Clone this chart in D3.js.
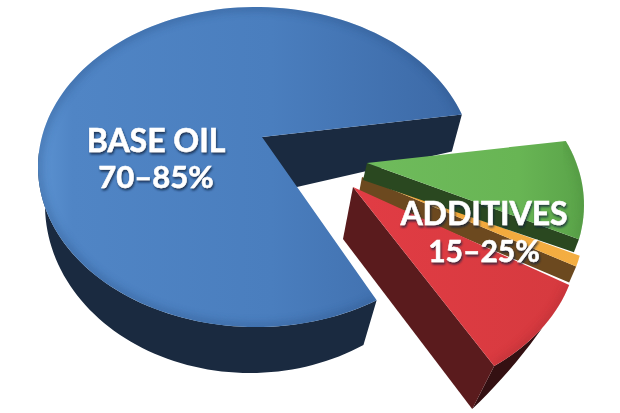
<!DOCTYPE html>
<html>
<head>
<meta charset="utf-8">
<script src="https://cdnjs.cloudflare.com/ajax/libs/d3/7.8.5/d3.min.js"></script>
<style>
  html, body { margin: 0; padding: 0; background: #fff; }
  svg { display: block; }
  text { font-family: Lato, sans-serif; font-weight: 700; fill: #fff; stroke: #fff; stroke-width: 0.5; text-anchor: middle; }
</style>
</head>
<body>
<div id="pie"></div>
<script>
// exploded 3d pie d3 chart

const width = 620
const height = 413

// data
const categories = ['Base oil', 'Additive green', 'Additive orange', 'Additive red']
const shares = [79, 10, 1.1, 9.9]
const labelLines = [['BASE OIL', '70–85%'], ['ADDITIVES', '15–25%']]

// drawing of each slice: top face ellipse, apex, extrusion
const rx = 218
const ry = 160
const rad = Math.PI / 180
const startDeg = 56.4 // clockwise from 3 o'clock, on screen
const explodeTurn = -4.4 // exploded wedge sits slightly rotated
const faces = [
  { cx: 256, cy: 167, ax: 262, ay: 137, turn: 0 },
  { cx: 366, cy: 205, ax: 367, ay: 163, turn: explodeTurn },
  { cx: 366, cy: 224, ax: 362, ay: 177, turn: -5.36 },
  { cx: 360, cy: 240, ax: 353, ay: 187, turn: explodeTurn }
]

const svg = d3.select('#pie').append('svg').attr('width', width).attr('height', height)
const defs = svg.append('defs')

function addGradient(id, stops) {
  const g = defs.append('linearGradient').attr('id', id)
  g.selectAll('stop')
    .data(stops)
    .join('stop')
    .attr('offset', d => d[0])
    .attr('stop-color', d => d[1])
}
addGradient('blueTop', [[0, '#5c93d2'], [0.08, '#5085c5'], [0.55, '#4a7ebe'], [1, '#3c69a6']])
addGradient('greenTop', [[0, '#6fbb5c'], [0.7, '#68b554'], [1, '#5aa349']])
addGradient('redTop', [[0, '#e13c44'], [1, '#d63a3f']])
addGradient('orangeTop', [[0, '#f0a436'], [1, '#f4ae42']])

defs.append('filter').attr('id', 'soft').append('feGaussianBlur').attr('stdDeviation', 4)
const shadow = defs.append('filter').attr('id', 'textShadow')
  .attr('x', '-10%').attr('y', '-20%').attr('width', '120%').attr('height', '150%')
shadow.append('feDropShadow')
  .attr('dx', 1).attr('dy', 2).attr('stdDeviation', 1.2)
  .attr('flood-color', '#10203a').attr('flood-opacity', 0.8)

// angles come from the shares
const pie = d3.pie().sort(null).startAngle(startDeg * rad).endAngle(startDeg * rad + 2 * Math.PI)
const arcs = pie(shares)

const line = d3.line()

// points along an ellipse between two angles
function rimPoints(e, a0, a1) {
  const n = Math.max(2, Math.ceil(Math.abs(a1 - a0) / (2 * rad)))
  return d3.range(n + 1).map(i => {
    const a = a0 + ((a1 - a0) * i) / n
    return [e.cx + (e.rx || rx) * Math.cos(a), e.cy + (e.ry || ry) * Math.sin(a)]
  })
}

function sliceAngles(i) {
  const t = faces[i].turn * rad
  return [arcs[i].startAngle + t, arcs[i].endAngle + t]
}

function topPath(i) {
  const [a0, a1] = sliceAngles(i)
  return line([[faces[i].ax, faces[i].ay], ...rimPoints(faces[i], a0, a1)]) + 'Z'
}

function quad(p, q, pd, qd) {
  return line([p, q, [q[0] + qd[0], q[1] + qd[1]], [p[0] + pd[0], p[1] + pd[1]]]) + 'Z'
}

function drawTop(i, fill, rimColor) {
  const id = 'clip' + i
  defs.append('clipPath').attr('id', id).append('path').attr('d', topPath(i))
  svg.append('path').attr('d', topPath(i)).attr('fill', fill)
  const [a0, a1] = sliceAngles(i)
  svg.append('g').attr('clip-path', 'url(#' + id + ')')
    .append('path')
    .attr('d', line(rimPoints(faces[i], a0, a1)))
    .attr('fill', 'none')
    .attr('stroke', rimColor)
    .attr('stroke-width', 6)
    .attr('opacity', 0.55)
    .attr('filter', 'url(#soft)')
}

function rimEnd(i, a) {
  return rimPoints(faces[i], a, a)[0]
}

// blue slice: back cut wall, outer wall, then top
const [blueA0, blueA1] = sliceAngles(0)
const blueApex = [faces[0].ax, faces[0].ay]
svg.append('path')
  .attr('d', quad(blueApex, rimEnd(0, blueA1), [0, 58], [-10, 37]))
  .attr('fill', '#1a2a40')
const blueFloor = { cx: 250, cy: 205, rx: 205, ry: 168 }
const wallEnd = 185 * rad
svg.append('path')
  .attr('d', line([...rimPoints(faces[0], blueA0, wallEnd), ...rimPoints(blueFloor, wallEnd, blueA0)]) + 'Z')
  .attr('fill', '#1a2a40')
drawTop(0, 'url(#blueTop)', '#2c5288')

// orange sliver and its brown cut wall, the red top covers the wall's foot
const [orangeA0, orangeA1] = sliceAngles(2)
svg.append('path')
  .attr('d', quad([faces[2].ax, faces[2].ay], rimEnd(2, orangeA1), [-3, 16], [-7, 16]))
  .attr('fill', '#6c491f')
drawTop(2, 'url(#orangeTop)', '#f4ae42')

// red slice: outer wall fades out towards its middle
const [redA0, redA1] = sliceAngles(3)
const redDrop = [-22, 43]
const redApex = [faces[3].ax, faces[3].ay]
const redWall = d3.scaleLinear().domain([redA0 + (redA1 - redA0) * 0.47, redA1]).range([0, 1])
const redRim = rimPoints(faces[3], redA0 + (redA1 - redA0) * 0.47, redA1)
const redFloor = redRim.map((p, i) => {
  const k = redWall(redA0 + (redA1 - redA0) * (0.47 + (0.53 * i) / (redRim.length - 1)))
  return [p[0] + redDrop[0] * k, p[1] + redDrop[1] * k]
})
svg.append('path')
  .attr('d', line([...redRim, ...redFloor.reverse()]) + 'Z')
  .attr('fill', '#341012')
svg.append('path')
  .attr('d', quad(redApex, rimEnd(3, redA1), [-10, 52], redDrop))
  .attr('fill', '#5a1b1d')
drawTop(3, 'url(#redTop)', '#a92a30')

// green slice
const [greenA0, greenA1] = sliceAngles(1)
svg.append('path')
  .attr('d', quad([faces[1].ax, faces[1].ay], rimEnd(1, greenA1), [-4, 17], [-5, 13]))
  .attr('fill', '#2a4820')
drawTop(1, 'url(#greenTop)', '#4d8f3e')

// labels
const labelFont = [[32, 31], [32, 30]]
const labelX = [156, 484]
const labelY = [[152, 188], [225, 262]]
const labels = svg.append('g').attr('filter', 'url(#textShadow)')
labelLines.forEach((lines, i) => {
  labels.selectAll('text.l' + i)
    .data(lines)
    .join('text')
    .attr('class', 'l' + i)
    .attr('x', labelX[i])
    .attr('y', (d, j) => labelY[i][j])
    .attr('font-size', (d, j) => labelFont[i][j])
    .text(d => d)
})
</script>
</body>
</html>
